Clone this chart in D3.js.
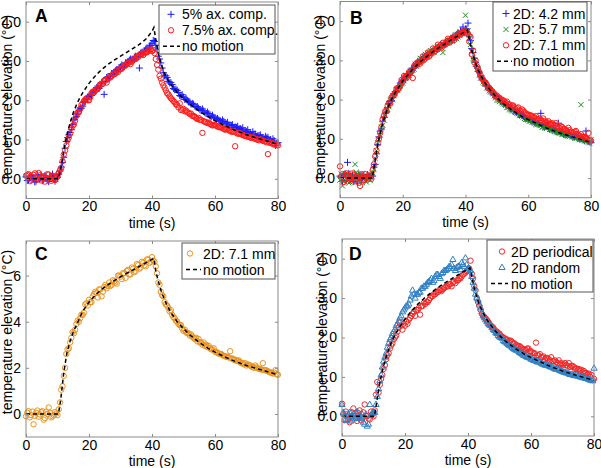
<!DOCTYPE html>
<html><head><meta charset="utf-8">
<script src="https://cdn.jsdelivr.net/npm/d3@7"></script>
<style>body{margin:0;background:#fff}svg{display:block}</style>
</head><body>
<svg id="c" width="601" height="468"></svg>
<script>
// ---------------- data ----------------
// Each scatter series is sampled every 0.8 s: "main" samples start at 0 s, "half" samples start at 0.4 s.
const timeStep = 0.8;
const halfOffset = 0.4;
const xTicks = [0, 20, 40, 60, 80];
const yTicks4 = [0, 1, 2, 3, 4];
const yTicksC = [0, 2, 4, 6];

const noMotionTime = [0,10.3,11,12,13,14,15,16,17,18,20,22,24,26,28,30,32,34,36,38,40,40.6,41.2,42,43,44,45,46,48,50,52,55,58,60,63,66,70,74,77,80];
const noMotionA = [0,0,0.25,0.73,1.12,1.42,1.68,1.88,2.05,2.19,2.43,2.62,2.78,2.91,3.02,3.12,3.22,3.32,3.42,3.55,3.75,3.85,3.55,3.2,2.9,2.68,2.52,2.4,2.2,2.04,1.9,1.72,1.57,1.48,1.36,1.25,1.12,1.02,0.95,0.88];
const noMotionBD = [0,0,0.35,0.85,1.22,1.5,1.74,1.93,2.09,2.23,2.47,2.67,2.84,2.99,3.12,3.24,3.35,3.45,3.55,3.64,3.74,3.77,3.55,3.25,2.97,2.76,2.6,2.45,2.23,2.05,1.9,1.72,1.57,1.49,1.38,1.27,1.15,1.05,0.98,0.91];
const noMotionC = [0,0,0.6,1.8,2.65,3.15,3.55,3.85,4.15,4.45,4.85,5.15,5.4,5.6,5.78,5.95,6.1,6.25,6.4,6.55,6.7,6.75,6.2,5.75,5.3,4.95,4.65,4.4,4.0,3.7,3.43,3.1,2.83,2.68,2.48,2.3,2.1,1.94,1.82,1.7];

const axComp5 = [0.05,-0.03,0.08,0.0,-0.06,0.04,0.1,-0.02,0.03,-0.07,0.06,0.0,0.09,
 0.12,0.3,0.55,0.95,1.12,1.25,1.5,1.58,1.75,1.8,1.95,2.03,
 2.1,2.12,2.25,2.32,2.3,2.45,2.15,2.58,2.55,2.68,2.72,2.78,
 2.82,2.9,2.86,2.95,3.02,3.0,3.1,3.08,2.82,3.22,3.25,3.33,3.38,3.45,
 3.5,3.3,3.05,2.82,2.62,2.58,2.44,2.4,2.27,2.25,2.12,2.14,
 2.02,2.0,1.95,1.92,1.85,1.84,1.76,1.78,1.68,1.7,1.6,1.62,
 1.55,1.54,1.48,1.5,1.42,1.44,1.36,1.38,1.32,1.34,1.28,1.3,
 1.22,1.25,1.18,1.2,1.14,1.1,1.12,1.05,1.08,1.06,1.0,1.02,0.85,0.92];
const axComp5Half = [-0.04,0.07,0.02,-0.08,0.1,0.0,-0.05,0.08,-0.03,0.05,0.12,-0.06,0.04,
 0.2,0.42,0.78,1.05,1.18,1.38,1.55,1.65,1.8,1.85,1.97,2.08,
 2.15,2.2,2.22,2.36,2.35,2.48,2.47,2.6,2.6,2.65,2.75,2.74,
 2.85,2.84,2.95,2.98,3.05,3.02,3.12,3.1,3.2,3.18,3.3,3.28,3.4,
 3.52,3.4,3.12,2.95,2.7,2.62,2.48,2.45,2.3,2.28,2.2,2.1,2.08,
 2.05,1.96,1.9,1.9,1.82,1.8,1.74,1.73,1.66,1.66,1.58,1.57,
 1.52,1.5,1.45,1.46,1.4,1.37,1.36,1.3,1.31,1.26,1.25,1.2,
 1.2,1.16,1.12,1.14,1.08,1.1,1.05,1.02,1.04,0.98,0.95,0.97,0.9];
const axComp75 = [0.08,0.12,-0.02,0.1,0.03,0.15,-0.04,0.07,0.0,0.11,-0.05,0.06,0.02,
 0.15,0.28,0.62,0.85,1.05,1.3,1.38,1.62,1.7,1.88,1.98,2.05,
 2.0,2.18,2.2,2.28,2.35,2.4,2.5,2.45,2.58,2.62,2.66,2.75,
 2.78,2.8,2.88,2.92,2.96,2.98,3.05,3.12,3.15,3.18,3.2,3.22,3.28,3.25,
 3.2,2.9,2.62,2.45,2.32,2.18,2.1,2.02,1.95,1.88,1.92,1.76,
 1.72,1.7,1.65,1.6,1.58,1.52,1.5,1.17,1.45,1.42,1.4,1.36,
 1.38,1.33,1.32,1.3,1.25,1.28,1.22,1.2,0.83,1.15,1.16,1.12,
 1.1,1.08,1.05,1.06,1.02,1.0,1.01,0.97,0.95,0.63,0.93,0.9,0.88,0.85];
const axComp75Half = [0.1,-0.06,0.05,0.14,-0.02,0.09,0.04,-0.07,0.12,0.02,0.08,-0.03,0.06,
 0.22,0.45,0.72,0.98,1.15,1.35,1.48,1.68,1.78,1.92,2.02,2.0,
 2.08,2.22,2.25,2.3,2.4,2.42,2.5,2.55,2.58,2.66,2.68,2.72,
 2.8,2.85,2.88,2.95,2.92,3.02,3.05,3.1,3.18,3.15,3.22,3.26,3.3,
 3.28,3.05,2.78,2.55,2.38,2.25,2.15,2.05,1.98,1.9,1.82,1.75,1.78,
 1.74,1.68,1.66,1.6,1.55,1.55,1.5,1.47,1.44,1.43,1.38,1.37,
 1.35,1.32,1.3,1.27,1.27,1.24,1.2,1.2,1.17,1.15,1.13,1.1,
 1.08,1.07,1.04,1.03,1.0,0.98,0.99,0.96,0.93,0.92,0.9,0.87,0.86];

const d2_42 = [0.05,-0.08,0.1,0.4,-0.05,0.08,0.02,-0.1,0.06,0.0,-0.04,0.09,0.03,
 0.05,0.35,0.85,1.2,1.45,1.65,1.8,1.95,2.05,2.2,2.3,2.42,
 2.5,2.52,2.65,2.7,2.8,2.85,2.98,3.0,3.08,3.1,3.15,3.2,
 3.25,3.3,3.28,3.4,3.38,3.42,3.5,3.55,3.6,3.62,3.7,3.75,3.85,3.8,
 3.95,3.5,3.2,2.95,2.72,2.6,2.5,2.35,2.32,2.22,2.12,2.1,
 2.02,1.95,1.9,1.88,1.82,1.78,1.7,1.72,1.62,1.65,1.58,1.52,
 1.5,1.48,1.45,1.42,1.4,1.65,1.32,1.35,1.3,1.28,1.25,1.2,
 1.4,1.15,1.12,1.1,1.15,1.08,1.05,1.1,1.02,1.0,0.98,1.2,0.94,0.9];
const d2_42Half = [0.02,0.08,-0.06,0.12,0.0,-0.09,0.05,0.1,-0.04,0.07,-0.02,0.04,0.08,
 0.28,0.62,1.05,1.25,1.55,1.68,1.9,1.98,2.15,2.2,2.35,2.45,
 2.55,2.6,2.65,2.78,2.8,2.9,2.92,3.02,3.05,3.12,3.12,3.22,
 3.25,3.28,3.3,3.38,3.4,3.45,3.48,3.55,3.52,3.62,3.65,3.7,3.72,
 3.8,3.6,3.3,3.05,2.85,2.7,2.55,2.48,2.35,2.3,2.2,2.12,2.08,
 2.0,1.95,1.9,1.85,1.8,1.78,1.75,1.68,1.62,1.6,1.55,1.52,
 1.5,1.45,1.42,1.4,1.38,1.35,1.3,1.4,1.25,1.22,1.22,1.18,
 1.18,1.15,1.12,1.12,1.1,1.06,1.05,1.02,1.0,1.0,0.95,0.95,0.92];
const d2_57 = [-0.05,-0.2,0.05,0.12,-0.1,0.0,0.35,-0.05,0.1,-0.12,0.04,0.02,-0.06,
 0.15,0.5,0.9,1.1,1.35,1.6,1.75,1.98,2.0,2.15,2.25,2.35,
 2.42,2.55,2.6,2.72,2.75,2.9,2.88,3.05,3.0,3.15,3.18,3.25,
 3.22,3.32,3.35,3.38,3.2,3.45,3.52,3.48,3.58,3.65,3.6,3.72,3.78,4.15,
 3.75,3.4,3.05,2.9,2.78,2.55,2.45,2.4,2.28,2.2,2.15,2.05,
 1.98,1.97,1.9,1.85,1.8,1.74,1.72,1.68,1.64,1.6,1.56,1.5,
 1.48,1.46,1.42,1.38,1.37,1.34,1.3,1.28,1.35,1.24,1.22,1.18,
 1.16,1.15,1.13,1.1,1.08,1.1,1.06,1.04,1.02,1.87,1.0,0.95,0.92,0.98];
const d2_57Half = [0.1,-0.05,0.08,-0.12,0.05,-0.02,0.15,-0.08,0.02,0.06,-0.1,0.0,0.05,
 0.22,0.7,0.98,1.3,1.48,1.72,1.82,2.02,2.1,2.25,2.3,2.4,
 2.48,2.62,2.62,2.75,2.78,2.85,2.95,2.98,3.08,3.08,3.2,3.18,
 3.2,3.28,3.35,3.32,3.42,3.45,3.45,3.5,3.58,3.55,3.65,3.68,3.75,
 3.7,3.58,3.22,3.0,2.85,2.62,2.55,2.42,2.3,2.22,2.2,2.1,2.0,
 1.95,1.92,1.88,1.8,1.76,1.72,1.7,1.65,1.6,1.58,1.52,1.5,
 1.45,1.43,1.4,1.36,1.35,1.3,1.28,1.28,1.24,1.22,1.2,1.16,
 1.15,1.12,1.12,1.08,1.06,1.05,1.02,1.02,0.98,0.97,0.95,0.95,0.9];
const d2_71 = [0.3,0.1,-0.05,0.08,0.0,0.12,-0.08,0.05,-0.2,0.02,0.1,-0.03,0.05,
 0.2,0.55,0.88,1.15,1.5,1.7,1.85,1.9,2.1,2.18,2.25,2.35,
 2.45,2.58,2.62,2.68,2.55,2.9,2.95,2.92,3.1,3.05,3.2,3.15,
 3.3,3.25,3.4,3.35,3.45,3.4,3.55,3.5,3.58,3.62,3.68,3.65,3.72,3.7,
 3.68,3.6,3.25,3.0,2.78,2.62,2.5,2.42,2.3,2.25,2.18,2.08,
 2.05,2.0,1.98,1.92,1.88,1.82,1.85,1.75,1.8,1.7,1.72,1.65,
 1.62,1.6,1.55,1.58,1.5,1.48,1.52,1.42,1.45,1.38,1.35,1.4,
 1.3,1.32,1.25,1.22,1.28,1.18,1.15,1.2,1.1,1.12,1.05,1.02,1.15,0.95];
const d2_71Half = [0.05,-0.1,0.12,0.0,-0.06,0.08,0.02,-0.12,0.1,-0.05,0.0,0.07,-0.02,
 0.35,0.7,1.0,1.3,1.58,1.72,1.92,2.05,2.12,2.28,2.3,2.5,
 2.6,2.55,2.7,2.72,2.85,2.88,2.95,3.0,3.02,3.12,3.1,3.22,
 3.22,3.3,3.35,3.32,3.4,3.48,3.45,3.55,3.52,3.6,3.66,3.7,3.75,
 3.72,3.48,3.15,2.95,2.85,2.7,2.55,2.45,2.38,2.3,2.22,2.15,2.1,
 2.05,2.0,1.95,1.95,1.88,1.85,1.8,1.78,1.72,1.75,1.68,1.62,
 1.6,1.58,1.55,1.5,1.52,1.45,1.45,1.42,1.38,1.4,1.35,1.32,
 1.28,1.3,1.25,1.2,1.22,1.15,1.18,1.12,1.08,1.05,1.05,1.0,0.98];

const c2_71 = [-0.1,0.12,-0.05,-0.45,0.05,-0.12,0.08,-0.25,0.1,0.28,-0.15,-0.05,0.02,
 0.2,1.05,1.65,2.6,2.85,3.3,3.5,3.9,4.0,4.3,4.4,4.8,
 4.95,4.85,5.2,5.25,5.4,5.1,5.5,5.45,5.7,5.6,5.75,5.65,
 6.0,5.85,6.1,6.2,6.05,6.35,6.15,6.5,6.3,6.6,6.45,6.7,6.55,6.8,
 6.6,6.1,5.6,5.15,4.85,4.7,4.45,4.3,4.15,4.0,3.85,3.7,
 3.65,3.5,3.4,3.35,3.25,3.15,3.1,3.0,2.95,2.9,2.85,2.8,
 2.7,2.65,2.6,2.55,2.5,2.48,2.72,2.4,2.35,2.3,2.25,2.2,
 2.2,2.15,2.1,2.05,2.1,1.98,1.95,2.2,1.9,1.85,1.8,1.75,1.9,1.7];
const c2_71Half = [0.05,-0.15,0.1,-0.08,0.15,-0.02,0.12,-0.18,0.0,0.05,-0.1,0.08,-0.05,
 0.5,1.2,2.0,2.8,3.1,3.55,3.65,4.05,4.15,4.3,4.75,4.7,
 4.85,5.1,5.3,5.05,5.4,5.3,5.6,5.55,5.55,5.8,5.7,6.0,
 5.95,6.1,5.9,6.25,6.05,6.3,6.2,6.45,6.35,6.55,6.4,6.7,6.6,
 6.65,6.4,5.7,5.3,5.1,4.75,4.6,4.5,4.2,4.05,3.9,3.85,3.6,
 3.55,3.5,3.45,3.3,3.3,3.25,3.1,3.1,3.0,2.95,2.8,2.85,
 2.7,2.62,2.6,2.52,2.48,2.45,2.4,2.35,2.3,2.32,2.2,2.15,
 2.1,2.12,2.05,2.0,2.02,1.95,1.92,1.9,1.88,1.82,1.78,1.8,1.72];

const periodical = [0.32,-0.1,0.05,-0.15,0.1,0.02,-0.12,0.15,-0.05,0.3,0.0,-0.08,0.05,
 0.15,0.87,0.8,1.05,1.3,1.55,1.72,1.85,2.0,2.15,2.38,2.2,
 2.3,2.35,2.5,2.6,2.55,2.7,2.58,2.8,2.85,2.9,3.0,3.05,
 3.1,3.15,3.2,3.22,3.28,3.3,3.35,3.4,3.38,3.45,3.5,3.6,3.65,3.7,
 3.95,3.5,3.2,2.9,2.7,2.55,2.48,2.4,2.3,2.25,2.15,2.1,
 2.05,2.0,1.95,1.9,1.92,1.85,1.8,1.78,1.75,1.7,1.68,1.72,
 1.65,1.6,1.87,1.55,1.5,1.52,1.48,1.45,1.5,1.4,1.38,1.42,
 1.35,1.32,1.3,1.35,1.28,1.25,1.22,1.2,1.18,1.15,1.1,1.08,1.05,0.95];
const periodicalHalf = [0.05,0.12,-0.08,0.0,0.2,-0.05,0.08,-0.1,0.1,0.02,-0.06,0.12,0.0,
 0.55,0.6,0.95,1.2,1.45,1.6,1.8,1.95,2.05,2.25,2.3,2.35,
 2.4,2.45,2.55,2.65,2.7,2.75,2.8,2.88,2.9,2.95,3.05,3.1,
 3.15,3.2,3.18,3.25,3.3,3.35,3.3,3.42,3.45,3.5,3.55,3.62,3.68,
 3.75,3.62,3.3,3.0,2.8,2.6,2.52,2.45,2.35,2.28,2.2,2.15,2.1,
 2.02,1.98,1.95,1.92,1.88,1.85,1.8,1.78,1.72,1.7,1.72,1.65,
 1.62,1.6,1.55,1.58,1.5,1.45,1.48,1.42,1.4,1.42,1.35,1.32,
 1.3,1.35,1.28,1.25,1.28,1.2,1.18,1.15,1.12,1.1,1.05,1.0,0.92];
const random2D = [0.3,0.05,-0.1,0.1,0.0,-0.05,0.12,-0.02,0.05,-0.2,-0.25,0.3,0.08,
 0.1,0.5,0.9,1.25,1.5,1.75,1.95,2.1,2.2,2.35,2.5,2.65,
 2.75,2.8,2.95,3.2,3.0,3.1,3.15,3.25,3.3,3.4,3.45,3.4,
 3.55,3.6,3.5,3.65,3.7,3.75,3.8,3.98,3.7,3.8,3.72,3.85,4.02,3.75,
 3.7,3.4,3.1,2.95,2.75,2.55,2.45,2.35,2.3,2.2,2.12,2.05,
 2.0,1.92,1.88,1.82,1.78,1.72,1.68,1.65,1.6,1.55,1.52,1.5,
 1.45,1.42,1.4,1.38,1.35,1.32,1.3,1.28,1.25,1.22,1.2,1.18,
 1.15,1.12,1.1,1.08,1.06,1.04,1.05,1.02,1.0,0.98,0.96,0.93,0.92,1.22];
const random2DHalf = [0.1,-0.08,0.02,-0.12,0.05,0.08,-0.05,0.0,-0.15,0.05,-0.2,0.02,0.1,
 0.3,0.7,1.05,1.4,1.6,1.85,2.0,2.15,2.3,2.42,2.55,2.7,
 2.8,2.85,3.05,3.1,3.1,3.15,3.25,3.3,3.35,3.42,3.5,3.45,
 3.6,3.55,3.62,3.7,3.72,3.8,3.85,3.75,3.78,3.82,3.9,3.8,3.85,
 3.75,3.55,3.25,3.0,2.85,2.65,2.5,2.4,2.32,2.25,2.18,2.1,2.02,
 1.98,1.9,1.85,1.8,1.75,1.7,1.68,1.62,1.58,1.55,1.5,1.48,
 1.45,1.42,1.38,1.38,1.33,1.3,1.3,1.26,1.25,1.2,1.2,1.16,
 1.14,1.12,1.1,1.06,1.05,1.03,1.02,1.0,0.98,0.97,0.95,0.92,0.9];

// ---------------- drawing ----------------
const svg = d3.select('#c');
const FONT = "'Liberation Sans', Arial, Helvetica, sans-serif";
const FRAME = '#8a8a8a';

const markers = {
  plus: 'M-3.5,0H3.5M0,-3.5V3.5',
  cross: 'M-2.6,-2.6L2.6,2.6M-2.6,2.6L2.6,-2.6',
  circle: 'M2.7,0A2.7,2.7 0 1,1 -2.7,0A2.7,2.7 0 1,1 2.7,0',
  triangle: 'M0,-3.4L3.1,2L-3.1,2Z'
};

function samples(main, half) {
  return main.map((v, i) => [i * timeStep, v])
    .concat(half.map((v, i) => [halfOffset + i * timeStep, v]))
    .sort((a, b) => a[0] - b[0]);
}

const panels = [
  { letter:'A', lx:35, ly:22.3, x0:26, x1:278, y0:198.5, y1:2, yDomain:[-0.5,4.5], yTicks:yTicks4,
    ylabX:12, ylabY:97, noMotion:noMotionA,
    series:[{main:axComp5, half:axComp5Half, marker:'plus', color:'#1a1aff', label:'5% ax. comp.'},
            {main:axComp75, half:axComp75Half, marker:'circle', color:'#ff1a1a', label:'7.5% ax. comp.'}],
    legend:{x:159,y:5,w:116,h:49, rows:[14.3,30.3,46.3], mx:171, tx:182, lx0:163, lx1:180} },
  { letter:'B', lx:350, ly:24, x0:340, x1:591, y0:197.7, y1:1.5, yDomain:[-0.5,4.5], yTicks:yTicks4,
    ylabX:325, ylabY:97, noMotion:noMotionBD,
    series:[{main:d2_42, half:d2_42Half, marker:'plus', color:'#1a1aff', label:'2D: 4.2 mm'},
            {main:d2_57, half:d2_57Half, marker:'cross', color:'#228b22', label:'2D: 5.7 mm'},
            {main:d2_71, half:d2_71Half, marker:'circle', color:'#ff1a1a', label:'2D: 7.1 mm'}],
    legend:{x:493,y:2,w:94,h:69, rows:[13.5,29.4,45.3,61.2], mx:506, tx:513, lx0:497, lx1:512} },
  { letter:'C', lx:35, ly:260, x0:26, x1:278, y0:437, y1:241, yDomain:[-1,7.5], yTicks:yTicksC,
    ylabX:12, ylabY:332, noMotion:noMotionC,
    series:[{main:c2_71, half:c2_71Half, marker:'circle', color:'#e8921e', label:'2D: 7.1 mm'}],
    legend:{x:182,y:243,w:93,h:36, rows:[253.5,269.5], mx:190, tx:203, lx0:186, lx1:201} },
  { letter:'D', lx:349, ly:260, x0:342, x1:594, y0:436, y1:239, yDomain:[-0.5,4.5], yTicks:yTicks4,
    ylabX:327, ylabY:334, noMotion:noMotionBD,
    series:[{main:periodical, half:periodicalHalf, marker:'circle', color:'#f02828', label:'2D periodical'},
            {main:random2D, half:random2DHalf, marker:'triangle', color:'#2f7fc4', label:'2D random'}],
    legend:{x:487,y:240,w:106,h:52, rows:[251.5,267.5,283.5], mx:502, tx:511, lx0:491, lx1:508} }
];

function styleAxis(sel){
  sel.attr('font-family', FONT).attr('font-size', 14);
  sel.select('.domain').remove();
  sel.selectAll('.tick line').attr('stroke', FRAME);
  sel.selectAll('.tick text').attr('fill', '#000');
}

panels.forEach(p => {
  const x = d3.scaleLinear().domain([0, 80]).range([p.x0, p.x1]);
  const y = d3.scaleLinear().domain(p.yDomain).range([p.y0, p.y1]);
  const g = svg.append('g');

  g.append('rect').attr('x', p.x0).attr('y', p.y1).attr('width', p.x1 - p.x0).attr('height', p.y0 - p.y1).attr('fill', '#fff');

  // scatter series
  p.series.forEach(s => {
    g.append('g').selectAll('path').data(samples(s.main, s.half)).join('path')
      .attr('d', markers[s.marker])
      .attr('transform', d => `translate(${x(d[0])},${y(d[1])})`)
      .attr('fill', 'none').attr('stroke', s.color).attr('stroke-width', 1);
  });

  // no-motion dashed curve
  const line = d3.line().x((d, i) => x(noMotionTime[i])).y(d => y(d));
  g.append('path').datum(p.noMotion).attr('d', line)
    .attr('fill', 'none').attr('stroke', '#000').attr('stroke-width', 1.5).attr('stroke-dasharray', '4,3');

  // axes (inward ticks on all four sides)
  g.append('g').attr('transform', `translate(0,${p.y0})`)
    .call(d3.axisBottom(x).tickValues(xTicks).tickSize(-3).tickPadding(3)).call(styleAxis);
  g.append('g').attr('transform', `translate(0,${p.y1})`)
    .call(d3.axisTop(x).tickValues(xTicks).tickSize(-3).tickFormat('')).call(styleAxis);
  g.append('g').attr('transform', `translate(${p.x0},0)`)
    .call(d3.axisLeft(y).tickValues(p.yTicks).tickSize(-3).tickPadding(5)).call(styleAxis);
  g.append('g').attr('transform', `translate(${p.x1},0)`)
    .call(d3.axisRight(y).tickValues(p.yTicks).tickSize(-3).tickFormat('')).call(styleAxis);

  g.append('rect').attr('x', p.x0).attr('y', p.y1).attr('width', p.x1 - p.x0).attr('height', p.y0 - p.y1)
    .attr('fill', 'none').attr('stroke', FRAME).attr('stroke-width', 1);

  // axis labels
  g.append('text').attr('x', (p.x0 + p.x1) / 2).attr('y', p.y0 + 29)
    .attr('text-anchor', 'middle').attr('font-family', FONT).attr('font-size', 14).text('time (s)');
  g.append('text').attr('transform', `translate(${p.ylabX},${p.ylabY}) rotate(-90)`)
    .attr('text-anchor', 'middle').attr('font-family', FONT).attr('font-size', 14).text('temperature elevation (°C)');

  // panel letter
  g.append('text').attr('x', p.lx).attr('y', p.ly).attr('font-family', "Arial, 'Liberation Sans', sans-serif")
    .attr('font-weight', 'bold').attr('font-size', 17.5).text(p.letter);

  // legend
  const L = p.legend;
  const lg = g.append('g');
  lg.append('rect').attr('x', L.x).attr('y', L.y).attr('width', L.w).attr('height', L.h)
    .attr('fill', '#fff').attr('stroke', '#555').attr('stroke-width', 1);
  const rows = p.series.map(s => ({ kind: 'marker', s })).concat([{ kind: 'line' }]);
  rows.forEach((r, k) => {
    const cy = L.rows[k];
    if (r.kind === 'marker') {
      lg.append('path').attr('d', markers[r.s.marker]).attr('transform', `translate(${L.mx},${cy})`)
        .attr('fill', 'none').attr('stroke', r.s.color).attr('stroke-width', 1);
      lg.append('text').attr('x', L.tx).attr('y', cy + 5).attr('font-family', FONT).attr('font-size', 14).text(r.s.label);
    } else {
      lg.append('line').attr('x1', L.lx0).attr('x2', L.lx1).attr('y1', cy).attr('y2', cy)
        .attr('stroke', '#000').attr('stroke-width', 1.5).attr('stroke-dasharray', '4,3');
      lg.append('text').attr('x', L.tx).attr('y', cy + 5).attr('font-family', FONT).attr('font-size', 14).text('no motion');
    }
  });
});
</script>
</body></html>
